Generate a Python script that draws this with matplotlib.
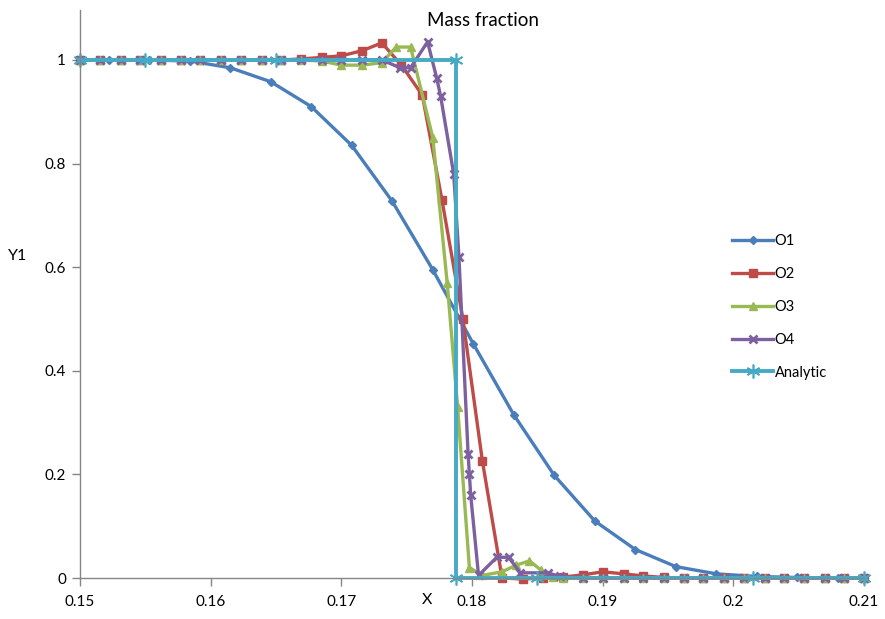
import matplotlib
matplotlib.use("Agg")
import matplotlib.pyplot as plt

# fine grid used by the higher order runs
x_fine = [0.1500, 0.1515, 0.1531, 0.1546, 0.1562, 0.1577, 0.1592, 0.1608, 0.1623, 0.1639,
          0.1654, 0.1669, 0.1685, 0.1700, 0.1716, 0.1731, 0.1746, 0.1762, 0.1777, 0.1793,
          0.1808, 0.1823, 0.1839, 0.1854, 0.1870, 0.1885, 0.1900, 0.1916, 0.1931, 0.1947,
          0.1962, 0.1977, 0.1993, 0.2008, 0.2024, 0.2039, 0.2054, 0.2070, 0.2085, 0.2100]

x_o1 = [0.1500, 0.1522, 0.1553, 0.1584, 0.1615, 0.1646, 0.1677, 0.1708, 0.1739, 0.1770,
        0.1801, 0.1832, 0.1863, 0.1894, 0.1925, 0.1956, 0.1987, 0.2018, 0.2049, 0.2080, 0.2100]
y_o1 = [1.0, 1.0, 1.0, 0.998, 0.985, 0.958, 0.91, 0.835, 0.727, 0.595,
        0.452, 0.315, 0.198, 0.11, 0.055, 0.022, 0.008, 0.003, 0.001, 0.0, 0.0]

x_o2 = x_fine
y_o2 = [1.0, 1.0, 1.0, 1.0, 1.0, 1.0, 1.0, 1.0, 1.0, 1.0,
        1.0, 1.002, 1.005, 1.008, 1.018, 1.033, 0.99, 0.932, 0.73, 0.50,
        0.225, 0.0, -0.002, 0.0, 0.002, 0.006, 0.012, 0.008, 0.004, 0.001,
        0.0, 0.0, 0.0, 0.0, 0.0, 0.0, 0.0, 0.0, 0.0, 0.0]

x_o3 = [0.1500, 0.1515, 0.1531, 0.1546, 0.1562, 0.1577, 0.1592, 0.1608, 0.1623, 0.1639,
        0.1654, 0.1669, 0.1685, 0.1700, 0.1716, 0.1731, 0.1742, 0.1753, 0.1770, 0.1781,
        0.1789, 0.1798, 0.1808, 0.1823, 0.1834, 0.1844, 0.1853, 0.1862, 0.1870, 0.1885,
        0.1900, 0.1916, 0.1931, 0.1947, 0.1962, 0.1977, 0.1993, 0.2008, 0.2024, 0.2039,
        0.2054, 0.2070, 0.2085, 0.2100]
y_o3 = [1.0, 1.0, 1.0, 1.0, 1.0, 1.0, 1.0, 1.0, 1.0, 1.0,
        1.0, 1.0, 0.998, 0.99, 0.99, 0.995, 1.025, 1.025, 0.85, 0.57,
        0.33, 0.02, 0.005, 0.012, 0.025, 0.033, 0.015, 0.002, 0.0, 0.0,
        0.0, 0.0, 0.0, 0.0, 0.0, 0.0, 0.0, 0.0, 0.0, 0.0,
        0.0, 0.0, 0.0, 0.0]

x_o4 = [0.1500, 0.1515, 0.1531, 0.1546, 0.1562, 0.1577, 0.1592, 0.1608, 0.1623, 0.1639,
        0.1654, 0.1669, 0.1685, 0.1700, 0.1716, 0.1731, 0.1745, 0.1753, 0.1766, 0.1773,
        0.1776, 0.1786, 0.1790, 0.1797, 0.1798, 0.1799, 0.1805, 0.1819, 0.1828, 0.1837,
        0.1858, 0.1867, 0.1885, 0.1900, 0.1916, 0.1931, 0.1947, 0.1962, 0.1977, 0.1993,
        0.2008, 0.2024, 0.2039, 0.2054, 0.2070, 0.2085, 0.2100]
y_o4 = [1.0, 1.0, 1.0, 1.0, 1.0, 1.0, 1.0, 1.0, 1.0, 1.0,
        1.0, 1.0, 1.0, 1.0, 1.0, 1.0, 0.985, 0.985, 1.035, 0.965,
        0.93, 0.78, 0.62, 0.24, 0.20, 0.16, 0.005, 0.04, 0.04, 0.01,
        0.01, 0.003, 0.0, 0.0, 0.0, 0.0, 0.0, 0.0, 0.0, 0.0,
        0.0, 0.0, 0.0, 0.0, 0.0, 0.0, 0.0]

x_an = [0.1500, 0.1550, 0.1650, 0.1788, 0.1788, 0.1850, 0.2015, 0.2100]
y_an = [1.0, 1.0, 1.0, 1.0, 0.0, 0.0, 0.0, 0.0]

xticks = [0.15, 0.16, 0.17, 0.18, 0.19, 0.2, 0.21]
xtick_labels = ["0.15", "0.16", "0.17", "0.18", "0.19", "0.2", "0.21"]
yticks = [0, 0.2, 0.4, 0.6, 0.8, 1.0]
ytick_labels = ["0", "0.2", "0.4", "0.6", "0.8", "1"]

plt.rcParams['font.family'] = ['Lato', 'DejaVu Sans']

fig = plt.figure(figsize=(8.85, 6.19), dpi=100)
ax = fig.add_axes([80 / 885, 1 - 578 / 619, 784 / 885, 568 / 619])

lw = 2.4
ax.plot(x_o1, y_o1, color="#4a7ebb", lw=lw, marker="D", ms=4, label="O1", clip_on=False)
ax.plot(x_o2, y_o2, color="#be4b48", lw=lw, marker="s", ms=5.5, label="O2", clip_on=False)
ax.plot(x_o3, y_o3, color="#98b954", lw=lw, marker="^", ms=5.5, label="O3", clip_on=False)
ax.plot(x_o4, y_o4, color="#7d60a0", lw=lw, marker="x", ms=5.5, mew=2, label="O4", clip_on=False)
ax.plot(x_an, y_an, color="#46aac5", lw=2.8, marker=(6, 2, 0), ms=10, mew=1.2,
        label="Analytic", clip_on=False)

ax.set_xlim(0.15, 0.21)
ax.set_ylim(0, 1.0965)
ax.set_xticks(xticks)
ax.set_xticklabels(xtick_labels)
ax.set_yticks(yticks)
ax.set_yticklabels(ytick_labels)
ax.tick_params(axis="both", direction="out", length=6, width=1, color="#868686",
               labelsize=11, pad=4)
ax.tick_params(axis="x", pad=6)

for s in ["top", "right"]:
    ax.spines[s].set_visible(False)
for s in ["left", "bottom"]:
    ax.spines[s].set_color("#868686")
    ax.spines[s].set_linewidth(1)

fig.text(483 / 885, 1 - 20 / 619, "Mass fraction", ha="center", va="center", fontsize=13.5)
fig.text(18 / 885, 1 - 256 / 619, "Y1", ha="center", va="center", fontsize=11.5)
fig.text(427 / 885, 1 - 600 / 619, "X", ha="center", va="center", fontsize=11.5)

fig.legend(loc="upper left", bbox_to_anchor=(725 / 885, 1 - 227 / 619), frameon=False,
           fontsize=10.5, handlelength=2.8, handletextpad=0.1, labelspacing=1.29,
           borderpad=0)

fig.savefig("out.png", dpi=100)
